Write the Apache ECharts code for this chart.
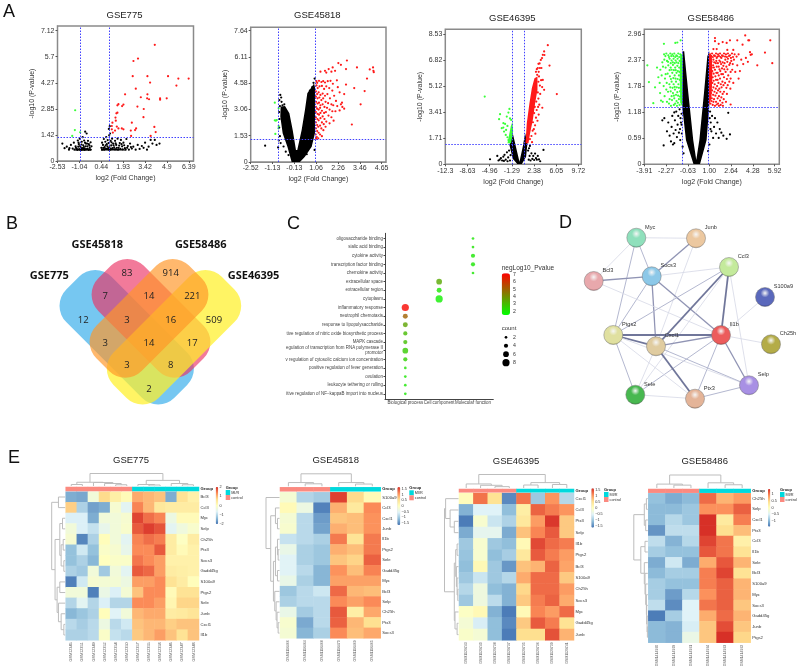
<!DOCTYPE html>
<html><head><meta charset="utf-8">
<style>html,body{margin:0;padding:0;background:#fff}#c{width:800px;height:671px;filter:blur(.4px)}</style>
<script src="https://cdn.jsdelivr.net/npm/echarts@6/dist/echarts.min.js"></script>
</head><body><div id="c"></div>
<script>
// ---------- A: volcano data ----------
const xTicks775=[-2.53,-1.04,0.44,1.93,3.42,4.9,6.39], yTicks775=[0,1.42,2.85,4.27,5.7,7.12];
const xTicks45818=[-2.52,-1.33,-0.13,1.06,2.26,3.46,4.65], yTicks45818=[0,1.53,3.06,4.58,6.11,7.64];
const xLabels45818=['-2.52','-1.13','-0.13','1.06','2.26','3.46','4.65'];
const xTicks46395=[-12.3,-8.63,-4.96,-1.29,2.38,6.05,9.72], yTicks46395=[0,1.71,3.41,5.12,6.82,8.53];
const xTicks58486=[-3.91,-2.27,-0.63,1.00,2.64,4.28,5.92], yTicks58486=[0,0.59,1.18,1.78,2.37,2.96];
const xLabels58486=['-3.91','-2.27','-0.63','1.00','2.64','4.28','5.92'];
const cut775=[-1,1,1.31], cut45818=[-1,1,1.3], cut46395=[-1.29,0.75,1.3], cut58486=[-1.05,0.95,1.3];

const red775=[[4.08,6.34],[2.94,5.59],[2.63,5.46],[2.58,4.63],[3.58,4.63],[4.98,4.63],[5.68,4.5],[6.38,4.5],[5.55,4.12],[3.76,4.28],[2.79,3.95],[2.06,3.64],[3.58,3.64],[3.13,3.48],[3.56,3.42],[3.69,3.37],[4.44,3.42],[4.44,3.35],[4.89,3.42],[1.95,3.08],[1.86,3.0],[1.61,3.1],[1.54,3.04],[2.9,2.97],[3.33,2.84],[1.54,2.64],[1.47,2.6],[1.41,2.37],[3.31,2.39],[2.52,2.09],[1.43,2.2],[1.2,2.09],[1.16,1.91],[1.5,1.88],[1.16,1.73],[1.23,1.55],[1.61,1.78],[1.84,1.78],[1.95,1.73],[1.38,1.66],[2.81,1.78],[2.74,1.69],[2.45,1.66],[4.05,1.86],[4.14,1.58],[3.8,1.37],[2.47,1.37]];
const green775=[[-1.33,2.77],[-1.35,1.69],[-0.99,1.57],[-1.53,1.37]];
const black775=[[-2.2,.95],[-2.05,.7],[-1.9,.78],[-1.75,.62],[-1.62,.88],[-1.5,.68],[-1.42,1.0],[-1.3,.8],[-1.22,.66],[-1.15,1.12],[-1.08,.92],[-1.02,1.22],[-.95,.74],[-.88,1.05],[-.82,1.3],[-.78,.86],[-.72,1.12],[-.65,1.6],[-.6,.95],[-.55,1.5],[-.5,.8],[-.46,1.1],[-.4,.92],[-.34,.72],[-.28,1.02],[-.22,.8],[.45,.72],[.5,1.0],[.56,.88],[.62,1.2],[.68,.76],[.72,1.05],[.78,1.3],[.82,.92],[.88,1.14],[.92,.7],[.96,1.75],[.98,1.4],[1.02,1.9],[1.04,1.5],[1.08,1.1],[1.12,.85],[1.18,1.22],[1.25,.95],[1.32,.75],[1.38,1.1],[1.46,.88],[1.55,1.22],[1.62,.72],[1.7,.98],[1.78,1.15],[1.86,.8],[1.95,1.0],[2.05,.7],[2.15,1.2],[2.25,.82],[2.4,.95],[2.52,.68],[2.62,.78],[2.78,.62],[2.92,.88],[3.05,.66],[3.2,.82],[3.32,.72],[3.42,1.0],[3.55,.62],[3.66,.78],[3.8,1.15],[3.92,.95],[4.08,1.15],[4.2,.88],[4.4,.95],[-1.72,.7],[-.98,.6],[-.7,.68],[.95,.62],[1.44,.64],
[-1.38,.62],[-1.28,.72],[-1.18,.6],[-1.12,.78],[-1.05,.64],[-1,.82],[-.92,.6],[-.85,.7],[-.8,.62],[-.74,.76],[-.68,.6],[-.62,.8],[-.56,.64],[-.48,.66],[-.42,.6],[-.36,.84],[-.3,.62],[-1.1,1.0],[-.9,.9],[-.66,1.0],[-.52,.95],[.5,.62],[.58,.72],[.64,.62],[.74,.86],[.8,.66],[.86,.8],[.94,.98],[1.0,.74],[1.06,.62],[1.14,1.02],[1.2,.7],[1.28,.86],[1.36,.64],[1.42,.96],[1.5,.72],[1.58,.62],[1.66,.84],[1.74,.66],[1.82,.92],[1.9,.64],[2,.86],[2.1,.62],[2.2,.72],[2.32,.62],[2.46,.76]];
const band775a=[[-1.35,.57],[-.22,.57],[-.2,.66],[-.5,.68],[-.8,.72],[-1.0,.7],[-1.3,.65]];
const band775b=[[.42,.57],[2.1,.57],[2,.64],[1.5,.66],[1.2,.7],[.9,.72],[.62,.7],[.44,.65]];

const red45818=[[2.75,5.9],[2.28,5.75],[2.42,5.65],[3.3,5.5],[2.7,5.4],[4.18,5.5],[4.0,5.38],[4.2,5.3],[4.22,5.22],[1.97,5.5],[1.75,5.4],[1.55,5.3],[1.3,5.25],[1.62,5.2],[1.9,5.25],[2.1,5.3],[3.85,4.85],[3.72,4.12],[3.15,4.3],[2.7,4.5],[3.5,3.35],[3.02,2.18],[1.08,4.7],[1.12,4.6],[1.22,4.72],[1.35,4.65],[1.45,4.7],[1.55,4.62],[1.7,4.7],[1.85,4.72],[1.98,4.55],[2.2,4.75],[2.25,4.35],[1.08,4.45],[1.15,4.3],[1.25,4.4],[1.38,4.42],[1.5,4.25],[1.62,4.4],[1.78,4.3],[1.95,4.15],[2.35,4.05],[2.6,3.95],[1.05,4.1],[1.12,3.95],[1.2,4.05],[1.3,3.9],[1.42,3.98],[1.55,3.85],[1.68,3.95],[1.82,3.7],[2.05,3.85],[2.15,3.55],[2.48,3.45],[2.42,3.35],[2.5,3.2],[2.6,3.1],[1.05,3.8],[1.14,3.7],[1.24,3.75],[1.35,3.6],[1.45,3.7],[1.58,3.5],[1.72,3.42],[1.9,3.35],[2.0,3.3],[2.22,3.25],[2.35,3.0],[1.06,3.5],[1.14,3.4],[1.22,3.45],[1.3,3.3],[1.42,3.35],[1.52,3.2],[1.66,3.15],[1.8,3.05],[1.95,2.95],[2.12,2.95],[1.05,3.2],[1.12,3.1],[1.2,3.05],[1.28,3.15],[1.38,2.98],[1.5,2.85],[1.6,2.9],[1.74,2.7],[1.9,2.6],[2.02,2.4],[1.05,2.9],[1.14,2.8],[1.22,2.75],[1.3,2.85],[1.42,2.65],[1.52,2.5],[1.62,2.35],[1.8,2.25],[1.05,2.6],[1.13,2.5],[1.2,2.42],[1.3,2.55],[1.38,2.3],[1.48,2.2],[1.58,2.05],[1.05,2.3],[1.12,2.15],[1.18,2.05],[1.28,2.12],[1.35,1.95],[1.46,1.85],[1.05,1.95],[1.12,1.8],[1.2,1.7],[1.28,1.6],[1.38,1.5],[1.04,1.6],[1.1,1.45],[1.18,1.38],[1.06,1.35]];
const green45818=[[-1.2,3.45],[-.99,3.12],[-1.2,2.42],[-1.09,2.44],[-.99,2.09],[-1.17,1.63],[-1,1.96],[-1.14,2.4]];
const black45818=[[-.9,3.9],[-.85,3.75],[-.95,3.6],[-.83,3.5],[-.92,3.25],[-.78,3.3],[-.68,3.35],[-.96,2.9],[-.94,2.5],[-.96,2.0],[-.92,1.5],[-.98,1.25],[-1.02,.85],[-1.73,.95],[-.88,1.1],[-.72,.9],[-.6,.6],[.98,.7],[.75,.95],[.55,.45],[.92,4.6],[.98,4.85],[.85,4.35],[.72,4.15],[-.45,.4],[.38,.7]];
const cloud45818=[[-.28,0],[-.51,.89],[-.77,1.67],[-.9,2.64],[-.88,3.22],[-.64,3.26],[-.4,2.83],[-.22,1.86],[-.04,.7],[.03,.7],[.27,1.86],[.45,3.02],[.58,3.99],[.95,4.57],[1.0,4.34],[1.0,1.67],[.82,.89],[.45,.31],[.18,0]];

const red46395=[[4.66,7.79],[4.05,7.38],[3.83,7.16],[4.1,7.15],[3.5,6.83],[3.7,6.95],[3.3,6.6],[3.11,6.57],[2.84,6.22],[3.0,6.3],[2.7,6.05],[3.35,6.3],[4.94,6.46],[3.6,6.3],[3.15,6.05],[6.15,4.59],[4.05,4.87],[3.83,5.52],[3.55,5.5],[3.35,5.15],[3.1,5.4],[3.2,5.75],[2.9,5.85],[3.72,5.05],[3.4,4.6],[3.1,4.3],[3.75,3.7],[3.05,3.75],[2.82,3.55],[2.75,4.1],[3.25,3.9],[2.7,3.05],[2.95,2.85],[2.55,2.55],[2.35,2.3],[2.6,2.0],[2.15,2.2],[1.95,1.85],[1.7,1.65],[2.05,1.45],[3.15,3.25],[2.4,3.35],[2.5,3.75],[3.0,4.7],[2.2,2.75]];
const green46395=[[-5.78,4.43],[-1.69,3.62],[-1.86,3.38],[-3.24,3.28],[-3.4,2.95],[-2.13,3.12],[-2.69,2.69],[-2.41,2.64],[-2.96,2.36],[-2.02,2.51],[-2.24,2.25],[-2.58,2.14],[-2.3,1.92],[-2.02,1.77],[-1.86,1.59],[-1.6,3.0],[-1.4,2.9],[-2.7,2.4]];
const black46395=[[-4.9,.33],[-3.7,.55],[-3.5,.25],[-3.3,.3],[-3.1,.4],[-2.9,.25],[-2.7,.5],[-2.6,.22],[-2.5,.62],[-2.3,.3],[-2.1,.78],[-2,.2],[-1.9,.45],[-1.75,.9],[-1.6,.25],[-1.5,.6],[1.4,.9],[1.5,.3],[1.65,.55],[1.8,.25],[1.95,.72],[2.1,.35],[2.25,.55],[2.4,.28],[2.55,.7],[2.7,.4],[2.85,.3],[3,.55],[3.2,.32],[3.94,.94],[3.4,.2],[1.7,1.2],[1.55,1.05]];
const cloud46395=[[-.37,0],[-1.14,.37],[-1.69,1.27],[-1.14,2.03],[-.75,1.38],[-.03,.17],[.52,1.16],[.9,2.03],[1.29,1.38],[1.07,.5],[.35,0]];
const greenBand46395=[[-2.02,1.38],[-1.47,2.47],[-1.2,2.79],[-1.08,2.14],[-1.42,1.38]];
const redBand46395=[[.96,1.38],[1.18,2.69],[1.62,4],[2.01,4.98],[2.45,5.63],[2.95,5.74],[2.95,4.87],[2.56,4],[2.18,2.9],[1.73,2.03],[1.46,1.38]];

const red58486=[[5.59,2.82],[5.74,2.3],[5.19,2.54],[4.61,2.25],[4.06,2.55],[4.11,2.49],[3.7,2.93],[3.93,2.82],[4.0,2.82],[3.1,2.82],[2.55,2.82],[2.3,2.76],[1.42,2.87],[1.42,2.8],[2.0,2.78],[1.7,2.74],[3.5,2.72],[1.05,2.5],[1.2,2.52],[1.35,2.48],[1.5,2.52],[1.65,2.5],[1.8,2.52],[1.95,2.48],[2.1,2.52],[2.25,2.5],[2.4,2.52],[2.55,2.48],[2.7,2.52],[2.9,2.5],[3.05,2.45],[3.2,2.5],[3.4,2.38],[3.55,2.28],[3.75,2.42],[3.9,2.33],[1.1,2.4],[1.3,2.38],[1.55,2.42],[1.75,2.36],[1.9,2.42],[2.2,2.38],[2.4,2.4],[2.65,2.35],[2.85,2.38],[3.1,2.25],[3.3,2.12],[1.08,2.28],[1.28,2.25],[1.48,2.3],[1.7,2.22],[1.88,2.28],[2.05,2.24],[2.28,2.22],[2.5,2.26],[2.72,2.15],[2.95,2.1],[3.2,1.95],[1.05,2.15],[1.22,2.12],[1.42,2.15],[1.62,2.08],[1.82,2.12],[2.02,2.05],[2.22,2.1],[2.42,2.02],[2.6,1.95],[2.8,1.85],[1.08,2.02],[1.25,1.98],[1.45,2.0],[1.62,1.92],[1.8,1.95],[1.98,1.88],[2.18,1.85],[2.38,1.8],[2.58,1.72],[1.06,1.88],[1.22,1.85],[1.4,1.82],[1.58,1.78],[1.75,1.72],[1.92,1.75],[2.1,1.65],[2.32,1.6],[1.06,1.72],[1.2,1.68],[1.38,1.65],[1.55,1.62],[1.72,1.55],[1.9,1.52],[2.08,1.48],[2.25,1.42],[1.05,1.55],[1.18,1.5],[1.35,1.48],[1.5,1.42],[1.65,1.38],[1.85,1.35],[2.6,1.36],[1.08,1.38],[1.25,1.35],[1.42,1.33],[2.02,1.33],[4.2,2.5],[2.35,2.6],[1.55,2.62],[1.3,2.62],[2.8,2.6],
[1.14,2.46],[1.26,2.44],[1.42,2.46],[1.6,2.45],[1.72,2.46],[1.85,2.44],[2.02,2.46],[2.18,2.45],[2.32,2.44],[2.48,2.46],[2.62,2.42],[2.78,2.44],[1.16,2.33],[1.36,2.32],[1.52,2.35],[1.64,2.3],[1.82,2.33],[2.0,2.32],[2.14,2.3],[2.35,2.33],[2.56,2.3],[2.76,2.28],[1.18,2.2],[1.34,2.2],[1.55,2.22],[1.76,2.16],[1.95,2.18],[2.12,2.16],[2.36,2.16],[2.6,2.1],[1.14,2.08],[1.32,2.06],[1.52,2.08],[1.7,2.02],[1.9,2.05],[2.1,1.98],[2.32,1.94],[2.5,1.88],[1.14,1.94],[1.32,1.9],[1.5,1.92],[1.68,1.85],[1.86,1.82],[2.06,1.8],[2.28,1.74],[1.12,1.78],[1.3,1.75],[1.48,1.72],[1.65,1.68],[1.82,1.65],[2.0,1.6],[1.12,1.62],[1.28,1.58],[1.45,1.56],[1.62,1.5],[1.8,1.45],[1.98,1.4],[1.15,1.44],[1.3,1.42],[1.55,1.36],[1.72,1.33]];
const green58486=[[-3.68,2.25],[-3.56,1.87],[-3.23,1.39],[-2.43,2.74],[-1.57,2.76],[-1.42,2.77],[-1.17,2.82],[-2.42,2.5],[-2.25,2.52],[-2.1,2.48],[-1.95,2.52],[-1.8,2.5],[-1.65,2.52],[-1.5,2.48],[-1.35,2.52],[-1.2,2.5],[-2.55,2.32],[-2.4,2.38],[-2.2,2.35],[-2.0,2.4],[-1.85,2.36],[-1.7,2.4],[-1.55,2.36],[-1.4,2.4],[-1.25,2.35],[-2.95,2.2],[-2.7,2.15],[-2.5,2.22],[-2.3,2.2],[-2.1,2.25],[-1.92,2.2],[-1.75,2.26],[-1.58,2.2],[-1.42,2.24],[-1.28,2.2],[-2.6,2.02],[-2.35,1.95],[-2.15,2.06],[-1.98,2.0],[-1.8,2.08],[-1.62,2.02],[-1.48,2.08],[-1.3,2.02],[-2.75,1.85],[-2.45,1.78],[-2.22,1.85],[-2.02,1.82],[-1.85,1.88],[-1.7,1.82],[-1.52,1.88],[-1.34,1.82],[-2.72,1.62],[-2.38,1.55],[-2.12,1.65],[-1.92,1.66],[-1.75,1.62],[-1.6,1.7],[-1.42,1.64],[-1.22,1.66],[-2.52,1.42],[-2.2,1.42],[-2.0,1.48],[-1.82,1.46],[-1.65,1.5],[-1.48,1.44],[-1.3,1.48],[-1.9,1.33],[-1.68,1.35],[-1.45,1.33],[-1.25,1.35],[-3.1,1.75],[-2.85,1.98],[-2.65,1.45],
[-2.32,2.46],[-2.05,2.44],[-1.88,2.46],[-1.72,2.46],[-1.58,2.44],[-1.44,2.46],[-1.28,2.44],[-2.12,2.33],[-1.92,2.3],[-1.76,2.32],[-1.62,2.3],[-1.48,2.32],[-1.34,2.3],[-2.0,2.14],[-1.85,2.15],[-1.68,2.14],[-1.54,2.14],[-1.38,2.12],[-1.26,2.1],[-2.3,2.05],[-1.9,1.94],[-1.72,1.96],[-1.56,1.95],[-1.4,1.94],[-1.24,1.92],[-1.95,1.75],[-1.78,1.74],[-1.62,1.76],[-1.46,1.75],[-1.3,1.74],[-2.25,1.7],[-1.85,1.55],[-1.68,1.56],[-1.52,1.58],[-1.36,1.56],[-1.22,1.54],[-2.05,1.38],[-1.58,1.38],[-1.38,1.4]];
const black58486=[[-2.55,1.0],[-2.4,1.05],[-2.45,.43],[-2.2,.75],[-2.1,.95],[-2.0,.65],[-1.9,.52],[-1.85,.85],[-1.8,1.1],[-1.7,.7],[-1.65,.48],[-1.6,1.0],[-1.55,.78],[-1.5,1.2],[-1.45,.62],[-1.4,.9],[-1.35,1.1],[-1.3,.72],[-1.25,1.25],[-1.2,.55],[-1.15,.95],[-1.1,1.15],[-1.08,.7],[-1.65,1.18],[-1.75,.45],[1.05,1.2],[1.1,.95],[1.15,.75],[1.2,1.1],[1.28,.6],[1.35,.85],[1.42,1.05],[1.5,.7],[1.6,.95],[1.7,.6],[1.78,.8],[1.9,.72],[2.05,.65],[2.3,.58],[2.42,1.17],[2.55,.68],[-1.02,.4],[-.95,.25],[.9,.3],[1.0,.45],[-1.1,.9],[-1.18,1.05],[-1.22,.8],[1.02,1.05],[1.08,.8]];
const cloud58486=[[-.2,0],[-.77,.55],[-1.05,1.31],[-1.02,2.57],[-.9,2.57],[-.59,1.62],[-.22,.55],[.01,.1],[.24,.55],[.59,1.62],[.84,2.45],[.99,2.57],[.99,1.31],[.79,.55],[.29,0]];
const greenBand58486=[[-1.05,1.31],[-1.2,1.4],[-1.24,2.0],[-1.2,2.5],[-1.02,2.5]];
const redBand58486=[[.97,1.34],[1.15,1.5],[1.22,2.0],[1.18,2.48],[.97,2.5]];

// ---------- B: Venn data ----------
const vennCounts=[83,914,7,14,221,12,3,16,509,3,14,17,3,8,2];
const vennNames=['GSE775','GSE45818','GSE58486','GSE46395'];

// ---------- C: enrichment data ----------
const goTerms=['oligosaccharide binding','sialic acid binding','cytokine activity','transcription factor binding','chemokine activity','extracellular space','extracellular region','cytoplasm','inflammatory response','neutrophil chemotaxis','response to lipopolysaccharide','tive regulation of nitric oxide biosynthetic process','MAPK cascade','egulation of transcription from RNA polymerase II\npromotor','v regulation of cytosolic calcium ion concentration','positive regulation of fever generation','ovulation','leukocyte tethering or rolling','itive regulation of NF−kappaB import into nucleus'];
const goGroups=['Biological process','Cell component','Molecular function'];
const goGroupOf=[2,2,2,2,2,1,1,1,0,0,0,0,0,0,0,0,0,0,0];
const goLogP=[2,2.1,2,2,2,3.4,2,1.8,7,5,3.5,3,2.9,2.6,2.5,2.1,2,2,2];
const goCount=[2,2,4,4,2,6,5,8,8,5,5,4,4,6,4,2,2,2,2];

// ---------- D: network data ----------
const geneNodes=['Myc','Junb','Ccl3','S100a9','Bcl3','Socs3','Ptgs2','Cxcl1','Il1b','Ch25h','Selp','Ptx3','Sele'];
const geneEdges=[['Myc','Junb',1],['Myc','Bcl3',1],['Myc','Socs3',2],['Myc','Ptgs2',2],['Junb','Socs3',3],['Junb','Cxcl1',1],['Socs3','Ccl3',1],['Socs3','Bcl3',3],['Socs3','Ptgs2',2],['Socs3','Cxcl1',3],['Socs3','Il1b',3],['Bcl3','Il1b',1],['Ccl3','Ptgs2',2],['Ccl3','Cxcl1',4],['Ccl3','Il1b',4],['Ccl3','Selp',1],['Ccl3','Sele',1],['S100a9','Il1b',1],['Il1b','Ch25h',1],['Il1b','Ptgs2',4],['Il1b','Cxcl1',3],['Il1b','Sele',2],['Il1b','Ptx3',2],['Il1b','Selp',3],['Ptgs2','Cxcl1',4],['Ptgs2','Sele',2],['Ptgs2','Ptx3',1],['Ptgs2','Selp',1],['Cxcl1','Sele',1],['Cxcl1','Ptx3',4],['Cxcl1','Selp',2],['Sele','Ptx3',1],['Ptx3','Selp',2]];

// ---------- E: heatmap data ----------
const genes775=['Bcl3','Ccl3','Myc','Selp','Ch25h','Ptx3','Socs3','Gadd45g','S100a9','Ptgs2','Sele','Junb','Cxcl1','Il1b'];
const samples775=['GSM12345','GSM12351','GSM12349','GSM12352','GSM12354','GSM12350','GSM12357','GSM12355','GSM12358','GSM12346','GSM12347','GSM12348'];
const heat775=[
[-1.5,-1.55,-.3,.7,.35,.1,1.1,1,.9,-1.5,.6,.3],
[.8,-1.1,-1.6,-1.5,-.2,-.6,1.4,1,.5,.4,.4,.4],
[-.7,-.7,-1.5,-.3,-.3,-.2,1.85,1.55,1.4,-.4,.1,.1],
[-.3,-.7,-.9,-.5,-.3,-.15,1.7,1.9,1.75,-.6,-.35,-.15],
[-.2,-1.85,-1.1,.05,-.3,-.6,1.4,1.55,1.45,.4,-.05,.4],
[-1.3,-.8,-1.3,-.1,-.2,-.5,1.35,1.35,1.7,.4,.1,.3],
[-1.3,-1.1,-1.4,0,-.1,-.1,1.5,1.35,1.2,.3,.3,.3],
[-1.1,-1.2,-.3,-1.2,-.3,-.6,1.7,1.6,1.2,.4,.35,.3],
[-1.9,-.8,-.2,-.25,-.25,-.4,1.2,1.2,1.35,.6,.4,.05],
[-.3,-.3,-1.9,-.45,-.7,-.25,.9,1.35,1.35,.1,.6,.6],
[-1.05,-.6,-1.05,-.7,-1.05,-1.05,1.35,1.35,1.2,.2,.75,.75],
[-1.4,-1.25,-1.1,.05,-.65,-.3,1,1.1,1.1,.4,.45,.55],
[-1,-1.15,-1,-.4,-1,-.8,.9,1,1,.8,.9,.9],
[-1.1,-1.1,-1,-.1,-.9,-1,.85,1,1.2,.9,.6,.9]];
const genes45818=['S100a9','Ccl3','Cxcl1','Junb','Il1b','Ptgs2','Sele','Gadd45g','Myc','Bcl3','Selp','Ch25h','Ptx3','Socs3'];
const samples45818=['GSM1116466','GSM1116464','GSM1116468','GSM1116470','GSM1116469','GSM1116465'];
const heat45818=[
[-.2,-.9,-1,1.6,.6,.1],[.1,-.35,-1.6,.9,.4,1.15],[-.2,-.85,-1.4,.75,.8,1.1],[-.15,-.85,-1.35,.9,.8,1.1],
[-.75,-.85,-.95,1.25,.5,1.25],[-.4,-.95,-1.05,.9,.8,1.25],[-.55,-.95,-1.05,.75,.65,1.4],[-.55,-.85,-1.2,1.1,.8,1.2],
[-.4,-.95,-1.2,1,1,1],[-1.05,-.85,-.7,1.35,.85,.8],[-.95,-.85,-.85,1.15,1,1.15],[-.4,-1,-.85,1.45,.3,.95],
[-.15,-1.3,-.85,1.4,.85,.55],[-.2,-1.2,-.95,1.15,.8,.95]];
const genes46395=['Cxcl1','Ccl3','Ptx3','Selp','Il1b','Ptgs2','Bcl3','S100a9','Ch25h','Socs3','Myc','Gadd45g','Junb'];
const samples46395=['GSM1129743','GSM1129740','GSM1129738','GSM1129737','GSM1129735','GSM1129736','GSM1129739','GSM1129741'];
const heat46395=[
[.05,1.25,.5,-1.5,1.25,-1,1.05,-.85],[-1.2,-.55,-.55,-1.1,.3,1.35,1.2,1.05],[-1.6,-.15,-.7,-.9,.4,1,1.6,.7],
[-1.25,-.45,-.45,-1.25,.75,1.15,1.4,.7],[-1,-.15,-1,-1.1,.1,1.5,1.3,1.2],[-1.05,-.15,-1.1,-.95,.4,1.4,1.2,1],
[-1.1,.1,-1,-1.4,.75,.85,1.35,.95],[-1,-.7,-1,-.85,.9,1.3,1.3,.7],[-.85,-.3,-1.1,-1.2,.6,1.3,1.3,1],
[-1,-.3,-.8,-1.2,.7,1.2,1.35,.9],[-.05,.1,-1.2,-1.6,.1,1.15,1,1.3],[-.2,-.6,-1.1,-1.5,.7,1.4,1.2,.5],
[-.1,-.2,-1.1,-1.6,.55,.55,1.45,.85]];
const genes58486=['Ch25h','Selp','Cxcl1','Ptx3','Ccl3','Il1b','Sele','Bcl3','S100a9','Myc','Socs3','Gadd45g','Junb','Ptgs2'];
const samples58486=['GSM1414930','GSM1414929','GSM1414931','GSM1414934','GSM1414933','GSM1414932'];
const heat58486=[
[-.95,-1.1,-1,1.1,.7,.85],[-1,-1,-.9,.9,.9,1.15],[-1,-.75,-.9,1.4,.3,1],[-1.25,-.7,-.7,1.4,.45,.65],
[-.7,-1.05,-.75,1.3,1.05,.2],[-.85,-.95,-.95,1.2,1.05,.4],[-1.1,-.6,-1.1,.75,1.2,.7],[-1,-.85,-.85,1,1.3,.4],
[-.85,-.95,-.95,1,1.15,.7],[-.85,-1.2,-.75,.9,1.15,.7],[-.7,-1.3,-.5,1.05,1.15,.6],[-1.4,-.85,-.5,.75,1.1,.7],
[-1,-1.05,-.55,.6,1.25,.6],[-1,-1.05,-.35,.6,1.4,.5]];
const topTree775=[1,[.3,[.12,0,1],[.28,2,[.2,3,[.1,4,5]]]],[.45,[.12,6,[.08,7,8]],[.2,9,[.1,10,11]]]];
const leftTree775=[1,[.5,0,1],[.75,[.4,[.2,2,3],[.3,[.15,4,5],[.1,6,7]]],[.6,[.4,8,9],[.5,10,[.3,11,[.1,12,13]]]]]];
const topTree45818=[1,[.3,0,[.2,1,2]],[.3,3,[.18,4,5]]];
const leftTree45818=[1,0,[.65,[.3,1,[.15,2,3]],[.45,[.3,[.15,4,[.1,5,6]],[.15,7,8]],[.35,9,[.25,10,[.18,11,[.1,12,13]]]]]]];
const topTree46395=[1,[.3,0,[.2,1,[.1,2,3]]],[.4,[.22,4,5],[.26,6,7]]];
const leftTree46395=[1,[.92,0,[.6,1,[.3,2,3]]],[.3,[.2,[.1,4,5],[.15,6,[.1,7,[.05,8,9]]]],[.25,10,[.1,11,12]]]];
const topTree58486=[1,[.3,0,[.22,1,2]],[.4,3,[.25,4,5]]];
const leftTree58486=[1,[.25,[.1,0,1],[.15,2,3]],[.5,[.2,4,5],[.25,6,[.2,7,[.15,8,[.1,9,[.08,10,[.05,11,[.03,12,13]]]]]]]]];

// ---------- layout and styling ----------
const FONT='"Liberation Sans",Arial,sans-serif', CAL='"Open Sans","Noto Sans",sans-serif';
const grids=[],xAxes=[],yAxes=[],series=[],visualMaps=[],graphics=[];
const T=(text,x,y,o={})=>graphics.push({type:'text',x,y,z:50,silent:true,rotation:o.rot||0,style:{text,fill:o.fill||'#333',font:(o.bold?'bold ':'')+(o.size||5)+'px '+(o.fam||FONT),textAlign:o.align||'left',textVerticalAlign:'middle'}});
const addTitle=(text,x,y)=>T(text,x,y,{size:9.5,align:'center',fill:'#222'});
[['A',3,12],['B',6,224],['C',287,224],['D',559,223],['E',8,458]].forEach(p=>T(p[0],p[1],p[2],{size:18,fill:'#111'}));

// volcanoes
function volcano(o){
  const gi=grids.length;
  grids.push({left:o.box[0],top:o.box[1],width:o.box[2],height:o.box[3],show:true,borderColor:'#8a8a8a',borderWidth:1.5,backgroundColor:'#fff'});
  const lab={fontSize:7,color:'#333',fontFamily:FONT,margin:3};
  xAxes.push({type:'value',gridIndex:gi,min:o.xTicks[0],max:o.xMax,splitLine:{show:false},axisLine:{onZero:false,lineStyle:{color:'#8a8a8a'}},
    axisTick:{length:2,customValues:o.xTicks,lineStyle:{color:'#555'}},
    axisLabel:{...lab,customValues:o.xTicks,formatter:v=>{const i=o.xTicks.indexOf(v);return o.xLabels&&i>=0?o.xLabels[i]:String(v);}},
    name:'log2 (Fold Change)',nameLocation:'middle',nameGap:14,nameTextStyle:{fontSize:7,color:'#333',fontFamily:FONT}});
  yAxes.push({type:'value',gridIndex:gi,min:0,max:o.yMax,splitLine:{show:false},axisLine:{onZero:false,lineStyle:{color:'#8a8a8a'}},
    axisTick:{length:2,customValues:o.yTicks,lineStyle:{color:'#555'}},
    axisLabel:{...lab,customValues:o.yTicks,formatter:v=>String(v)},
    name:'-log10 (P-value)',nameLocation:'middle',nameGap:o.nameGap||22,nameTextStyle:{fontSize:7,color:'#333',fontFamily:FONT}});
  const poly=(pts,fill)=>series.push({type:'custom',xAxisIndex:gi,yAxisIndex:gi,silent:true,data:[pts[0]],clip:true,z:2,
    renderItem:(p,api)=>({type:'polygon',shape:{points:pts.map(q=>api.coord(q))},style:{fill}})});
  const dots=(data,color)=>series.push({type:'scatter',xAxisIndex:gi,yAxisIndex:gi,data,symbolSize:o.dot||2.2,silent:true,itemStyle:{color,opacity:1},z:3});
  (o.polys||[]).forEach(p=>poly(p[0],p[1]));
  dots(o.black,'#000');dots(o.green,'#39ff39');dots(o.red,'#ff1a1a');
  series.push({type:'line',xAxisIndex:gi,yAxisIndex:gi,data:[],z:4,markLine:{silent:true,symbol:'none',animation:false,label:{show:false},
    lineStyle:{type:[1.5,1.5],color:'#4040ff',width:1},data:[{xAxis:o.cut[0]},{xAxis:o.cut[1]},{yAxis:o.cut[2]}]}});
  addTitle(o.title,o.box[0]+o.box[2]/2+(o.titleDx||0),o.titleY);
}
volcano({title:'GSE775',box:[57.5,26,136,135],xTicks:xTicks775,yTicks:yTicks775,xMax:6.71,yMax:7.37,cut:cut775,black:black775,green:green775,red:red775,polys:[[band775a,'#000'],[band775b,'#000']],titleY:15,titleDx:-1,dot:2.2});
volcano({title:'GSE45818',box:[250.7,27.3,135.3,134.7],xTicks:xTicks45818,xLabels:xLabels45818,yTicks:yTicks45818,xMax:4.89,yMax:7.83,cut:cut45818,black:black45818,green:green45818,red:red45818,polys:[[cloud45818,'#000']],titleY:15,titleDx:-1});
volcano({title:'GSE46395',box:[445.3,29.3,136,135],xTicks:xTicks46395,yTicks:yTicks46395,xMax:10.2,yMax:8.83,cut:cut46395,black:black46395,green:green46395,red:red46395,polys:[[cloud46395,'#000'],[greenBand46395,'#39ff39'],[redBand46395,'#ff1a1a']],titleY:18,titleDx:-1});
volcano({title:'GSE58486',box:[644.3,29.3,135,135],xTicks:xTicks58486,xLabels:xLabels58486,yTicks:yTicks58486,xMax:6.27,yMax:3.07,cut:cut58486,black:black58486,green:green58486,red:red58486,polys:[[cloud58486,'#000'],[greenBand58486,'#39ff39'],[redBand58486,'#ff1a1a']],titleY:18,titleDx:-1,nameGap:24});

// Venn
const vennShapes=[
 {c:[126.7,337.3],L:153,rot:-Math.PI/4,fill:'rgba(60,175,235,.7)'},
 {c:[151,318.3],L:131,rot:-Math.PI/4,fill:'rgba(235,50,100,.65)'},
 {c:[174,337.3],L:153,rot:Math.PI/4,fill:'rgba(255,240,40,.72)'},
 {c:[149,318.3],L:131,rot:Math.PI/4,fill:'rgba(255,150,40,.68)'}];
vennShapes.forEach(s=>graphics.push({type:'rect',x:s.c[0],y:s.c[1],rotation:s.rot,silent:true,z:5,
  shape:{x:-s.L/2,y:-32,width:s.L,height:64,r:23},style:{fill:s.fill}}));
const vennPos=[[127,273],[170.7,273],[105.3,296.7],[149,296.7],[192.3,296.7],[83.3,320],[127,320],[170.7,320],[214,320],[105.3,343.3],[149,343.3],[192.3,343.3],[127,365.7],[170.7,365.7],[149,389]];
vennCounts.forEach((v,i)=>T(String(v),vennPos[i][0],vennPos[i][1],{size:9.5,align:'center',fill:'#222',fam:CAL}));
const vennLab=[[49.3,275.7,'center'],[97.3,245.3,'center'],[200.7,245.3,'center'],[227.7,275.7,'left']];
vennNames.forEach((n,i)=>T(n,vennLab[i][0],vennLab[i][1],{size:11,bold:true,align:vennLab[i][2],fill:'#111',fam:CAL}));

// Enrichment bubbles
{
  const gi=grids.length, rows=goTerms.map((_,i)=>i), cols=[0,1,2];
  grids.push({left:385,top:233.3,width:108.3,height:165.7});
  const line={show:true,onZero:false,lineStyle:{color:'#444',width:1}};
  xAxes.push({type:'value',gridIndex:gi,min:-.6,max:2.6,splitLine:{show:false},axisLine:line,axisTick:{length:1.5,customValues:cols,lineStyle:{color:'#444'}},
    axisLabel:{customValues:cols,formatter:v=>goGroups[v],fontSize:4.45,hideOverlap:false,color:'#444',margin:2,fontFamily:FONT}});
  yAxes.push({type:'value',gridIndex:gi,inverse:true,min:-.6,max:18.6,splitLine:{show:false},axisLine:line,axisTick:{length:1.5,customValues:rows,lineStyle:{color:'#444'}},
    axisLabel:{customValues:rows,formatter:v=>goTerms[v],fontSize:4.45,lineHeight:5,color:'#444',margin:2,align:'right',fontFamily:FONT}});
  const si=series.length;
  series.push({type:'scatter',xAxisIndex:gi,yAxisIndex:gi,silent:true,z:5,
    data:goTerms.map((_,i)=>[goGroupOf[i],i,goLogP[i],goCount[i]]),
    symbolSize:d=>1.2+d[3]*.75});
  visualMaps.push({type:'continuous',seriesIndex:si,dimension:2,min:1.45,max:7.14,inRange:{color:['#00ff00','#ff0000']},left:501.7,top:273.3,itemWidth:8.3,itemHeight:41.7,padding:0,calculable:false,text:null,realtime:false,hoverLink:false,showLabel:false});
  T('negLog10_Pvalue',501.7,268,{size:6.5,fill:'#333'});
  [7,6,5,4,3,2].forEach((v,i)=>T(String(v),513,274.5+i*7.35,{size:5.2}));
  T('count',501.7,328.5,{size:6,fill:'#333'});
  [2,4,6,8].forEach((c,i)=>{
    graphics.push({type:'circle',x:506,y:337.3+i*8.45,silent:true,z:50,shape:{r:(1.2+c*.75)/2},style:{fill:'#000'}});
    T(String(c),513,337.3+i*8.45,{size:5.2});
  });
}

// Network
{
  const pos={Myc:[636.3,237.7],Junb:[696,238.3],Ccl3:[729,267],S100a9:[765,297],Bcl3:[593.7,281],Socs3:[651.7,276.3],Ptgs2:[613.3,335],Cxcl1:[656,346.3],Il1b:[721,335],Ch25h:[771,344.3],Selp:[749,385.3],Ptx3:[695,398.7],Sele:[635.3,394.7]};
  const col={Myc:['#8fe0bc','#3f9e78'],Junb:['#ecc8a0','#a87c50'],Ccl3:['#c4ea9c','#74a84c'],S100a9:['#5a68bc','#1e2a78'],Bcl3:['#e8a8ac','#a85c64'],Socs3:['#8cc8e8','#3c80a8'],Ptgs2:['#e0e0a0','#989858'],Cxcl1:['#e0cca0','#98845c'],Il1b:['#ec5c5c','#a82020'],Ch25h:['#b4ac48','#6c6418'],Selp:['#a890e4','#6448a8'],Ptx3:['#e4b498','#a07458'],Sele:['#48b850','#1c7424']};
  const ew={1:[.8,'#d6d8e6'],2:[1,'#b4b8d0'],3:[1.3,'#9094b4'],4:[1.8,'#70769a']};
  series.push({type:'graph',layout:'none',left:593.7,top:237.7,width:177.3,height:161,silent:true,z:6,symbol:'circle',symbolSize:19,roam:false,
    data:geneNodes.map(n=>({name:n,x:pos[n][0],y:pos[n][1],
      itemStyle:{borderColor:'#777',borderWidth:.5,color:{type:'radial',x:.5,y:.3,r:.75,colorStops:[{offset:0,color:'#f6f6f6'},{offset:.3,color:col[n][0]},{offset:.8,color:col[n][0]},{offset:1,color:col[n][1]}]}}})),
    label:{show:true,position:'right',distance:0,offset:[-1,-10.5],fontSize:5.6,color:'#333',fontFamily:FONT,formatter:'{b}'},
    edgeSymbol:['none','none'],
    links:geneEdges.map(e=>({source:e[0],target:e[1],lineStyle:{width:ew[e[2]][0],color:ew[e[2]][1],opacity:1,curveness:0}}))});
}

// Heatmaps
const ramp=['#4575b4','#91bfdb','#e0f3f8','#ffffbf','#fee090','#fc8d59','#d73027'];
function dendro(tree,map){
  const segs=[];
  (function walk(n){
    if(typeof n==='number')return [n+.5,0];
    const a=walk(n[1]),b=walk(n[2]);
    segs.push([map(a[0],a[1]),map(a[0],n[0]),map(b[0],n[0]),map(b[0],b[1])]);
    return [(a[0]+b[0])/2,n[0]];
  })(tree);
  segs.forEach(s=>graphics.push({type:'polyline',silent:true,z:8,shape:{points:s},style:{stroke:'#bdbdbd',lineWidth:1,fill:null}}));
}
function heatPanel(o){
  const [x0,y0,w,h]=o.box, nc=o.samples.length, nr=o.genes.length;
  let gi=grids.length;
  grids.push({left:x0,top:y0,width:w,height:h});
  xAxes.push({type:'category',gridIndex:gi,data:o.samples,axisLine:{show:false},axisTick:{show:false},splitLine:{show:false},
    axisLabel:{interval:0,rotate:90,fontSize:o.sFont||3.8,color:'#555',margin:2,fontFamily:FONT}});
  yAxes.push({type:'category',gridIndex:gi,data:o.genes,inverse:true,position:'right',axisLine:{show:false},axisTick:{show:false},splitLine:{show:false},
    axisLabel:{interval:0,fontSize:4.2,color:'#333',margin:1.5,fontFamily:FONT}});
  const si=series.length;
  series.push({type:'heatmap',xAxisIndex:gi,yAxisIndex:gi,silent:true,z:5,data:o.values.flatMap((r,j)=>r.map((v,i)=>[i,j,v])),itemStyle:{borderWidth:0}});
  visualMaps.push({type:'continuous',seriesIndex:si,min:o.range[0],max:o.range[1],inRange:{color:ramp},left:o.bar[0],top:o.bar[1],itemWidth:o.bar[2],itemHeight:o.bar[3],padding:0,calculable:false,text:null,hoverLink:false,showLabel:false});
  gi=grids.length;
  grids.push({left:x0,top:o.annot[0],width:w,height:o.annot[1]});
  const half=o.samples.map((_,i)=>i);
  xAxes.push({type:'category',gridIndex:gi,data:half,show:false});
  yAxes.push({type:'category',gridIndex:gi,data:['Group'],position:'right',axisLine:{show:false},axisTick:{show:false},
    axisLabel:{fontSize:4.2,fontWeight:'bold',color:'#222',margin:1.5,fontFamily:FONT}});
  series.push({type:'heatmap',xAxisIndex:gi,yAxisIndex:gi,silent:true,z:5,
    data:half.map(i=>({value:[i,0,i<nc/2?0:1],itemStyle:{color:i<nc/2?'#fb8a80':'#00d9dd'}}))});
  addTitle(o.title,o.titleX,o.titleY);
  dendro(o.topTree,(p,hh)=>[x0+p/nc*w,o.annot[0]-1-hh*o.topH]);
  dendro(o.leftTree,(p,hh)=>[x0-.5-hh*o.leftW,y0+p/nr*h]);
  o.ticks.forEach(t=>{
    const y=o.bar[1]+o.bar[3]*(o.range[1]-t)/(o.range[1]-o.range[0]);
    T(String(t).replace('-','−'),o.bar[0]+o.bar[2]+1.2,y,{size:3.8});
  });
  const gx=o.legX, gy=o.annot[0];
  T('Group',gx,gy+.5,{size:4,bold:true,fill:'#222'});
  graphics.push({type:'rect',x:gx,y:gy+3,z:50,silent:true,shape:{width:4.5,height:5},style:{fill:'#00d9dd'}});
  graphics.push({type:'rect',x:gx,y:gy+8,z:50,silent:true,shape:{width:4.5,height:5},style:{fill:'#fb8a80'}});
  T('MI/R',gx+5.5,gy+5.5,{size:3.8});
  T('control',gx+5.5,gy+10.5,{size:3.8});
}
heatPanel({title:'GSE775',titleX:131,titleY:460.7,box:[65.7,491.7,133.3,148.6],annot:[487,4],samples:samples775,genes:genes775,values:heat775,range:[-2,2],bar:[215.7,487,2.5,37],ticks:[2,1,0,-1,-2],legX:225.7,topTree:topTree775,leftTree:leftTree775,topH:12.5,leftW:13.5});
heatPanel({title:'GSE45818',titleX:335.7,titleY:460.7,box:[280,492.3,100.7,146],annot:[487.3,4],samples:samples45818,genes:genes45818,values:heat45818,range:[-1.7,1.7],bar:[397.3,487,3,38],ticks:[1.5,1,.5,0,-.5,-1,-1.5],legX:409.3,topTree:topTree45818,leftTree:leftTree45818,topH:12.5,leftW:13.5,sFont:3.5});
heatPanel({title:'GSE46395',titleX:516,titleY:461.7,box:[459,493,115,147.3],annot:[489,3.3],samples:samples46395,genes:genes46395,values:heat46395,range:[-1.65,1.65],bar:[591.3,488.3,2.7,39.4],ticks:[1.5,1,.5,0,-.5,-1,-1.5],legX:604,topTree:topTree46395,leftTree:leftTree46395,topH:13.5,leftW:14,sFont:3.5});
heatPanel({title:'GSE58486',titleX:704.7,titleY:461.7,box:[648.3,493.3,102.4,149.4],annot:[489,3.7],samples:samples58486,genes:genes58486,values:heat58486,range:[-1.45,1.4],bar:[768,489,2.3,37.7],ticks:[1,.5,0,-.5,-1],legX:780,topTree:topTree58486,leftTree:leftTree58486,topH:13,leftW:14,sFont:3.5});

const chart=echarts.init(document.getElementById('c'),null,{renderer:'canvas'});
chart.setOption({animation:false,backgroundColor:'#fff',tooltip:{show:false},grid:grids,xAxis:xAxes,yAxis:yAxes,visualMap:visualMaps,series,graphic:graphics});
</script></body></html>
